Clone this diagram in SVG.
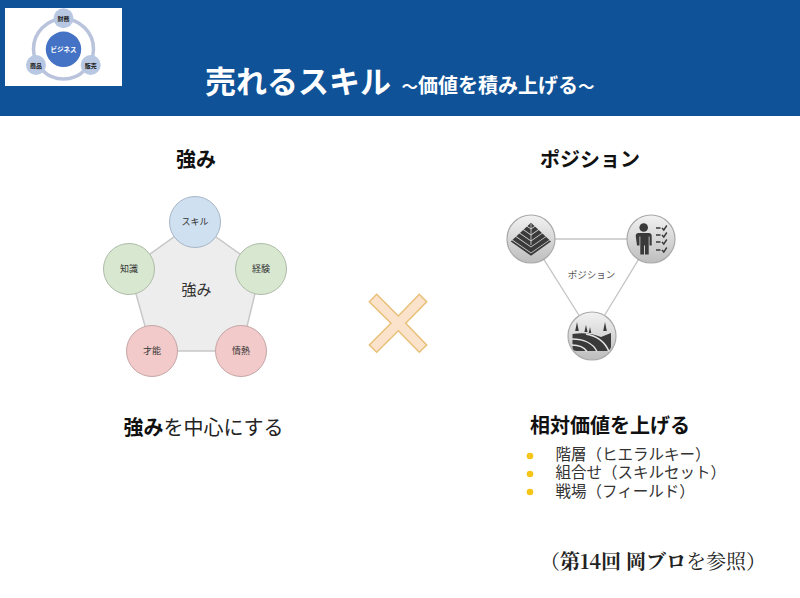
<svg xmlns="http://www.w3.org/2000/svg" width="800" height="598" viewBox="0 0 800 598">
<style>
text{font-family:"Noto Sans CJK JP","Liberation Sans",sans-serif;text-anchor:middle}
.b{font-weight:700;fill:#111}
.n{font-size:9px;fill:#333}
.l{font-size:15.500px;fill:#333;text-anchor:start}
.p{fill:#ededed;stroke:#c8c8c8;stroke-width:1.5}
.blue{fill:#cfe0f1;stroke:#a6b6c6}
.green{fill:#d7e7d0;stroke:#aebca8}
.red{fill:#f3caca;stroke:#c4a6a6}
.ic{fill:url(#g);stroke:#aaa;stroke-width:1.2}
.d{fill:#3a3a3a}
.dl{fill:none;stroke:#3a3a3a}
.w{fill:none;stroke:#e4e4e4;stroke-width:1.5}
.c{stroke:#c4c4c4;stroke-width:1.3;fill:none}
.bul{fill:#f5c518}
.lg{fill:#b9c8e2}
.lt{font-size:6px;fill:#222;font-weight:700}
</style>
<defs>
<linearGradient id="g" x1="0" y1="0" x2="0" y2="1"><stop offset="0" stop-color="#f2f2f2"/><stop offset="1" stop-color="#bdbdbd"/></linearGradient>
<clipPath id="dia"><polygon points="531,222.700 551,241.500 531,255.700 510.700,241.500"/></clipPath>
</defs>
<rect width="800" height="598" fill="#fff"/>
<rect id="header" width="800" height="116" fill="#0f5297"/>
<g id="logo">
<rect x="5" y="8" width="117" height="78" fill="#fff"/>
<circle cx="63.500" cy="49" r="30" fill="none" stroke="#b9c3dc" stroke-width="3.500"/>
<circle cx="63.500" cy="49.300" r="17.700" fill="#4472c4"/>
<text x="63.500" y="51.500" font-size="6.500" fill="#fff" font-weight="700">ビジネス</text>
<circle class="lg" cx="63.500" cy="18.300" r="10"/><text class="lt" x="63.500" y="20.500">財務</text>
<circle class="lg" cx="36" cy="65" r="10"/><text class="lt" x="36" y="67.500">商品</text>
<circle class="lg" cx="90.700" cy="65" r="10"/><text class="lt" x="90.700" y="67.500">販売</text>
</g>
<g id="title">
<text x="298" y="93" font-size="31" font-weight="700" fill="#fff">売れるスキル</text>
<text x="498" y="93" font-size="20" font-weight="700" fill="#fff"><tspan font-size="16.500">～</tspan>価値を積み上げる<tspan font-size="16.500">～</tspan></text>
</g>
<text id="h-left" class="b" x="196" y="167" font-size="20">強み</text>
<text id="h-right" class="b" x="590" y="167" font-size="20">ポジション</text>
<g id="strength">
<polygon class="p" points="195,222 261,269 241,351 152,351 129,269"/>
<text x="196.500" y="295" font-size="15" fill="#333">強み</text>
<g id="n-skill"><circle class="blue" cx="195" cy="222" r="25.500"/><text class="n" x="195" y="225">スキル</text></g>
<g id="n-exp"><circle class="green" cx="261" cy="269" r="25.500"/><text class="n" x="261" y="272">経験</text></g>
<g id="n-passion"><circle class="red" cx="241" cy="351" r="25.500"/><text class="n" x="241" y="354">情熱</text></g>
<g id="n-talent"><circle class="red" cx="152" cy="351" r="25.500"/><text class="n" x="152" y="354">才能</text></g>
<g id="n-know"><circle class="green" cx="129" cy="269" r="25.500"/><text class="n" x="129" y="272">知識</text></g>
</g>
<polygon id="cross" points="369.300,301.700 376.700,294.300 398.300,316 419.300,294.300 426.700,301.700 405.700,323.300 426.700,345 419.300,352.300 398.300,330.700 376.700,352.300 369.300,345 391,323.300" fill="#fbe3cb" stroke="#e9c078" stroke-width="1.500"/>
<g id="connectors">
<line class="c" x1="531" y1="239" x2="651" y2="239"/>
<line class="c" x1="531" y1="239" x2="592" y2="336"/>
<line class="c" x1="651" y1="239" x2="592" y2="336"/>
</g>
<text id="pos" x="591.500" y="278" font-size="9.500" fill="#555">ポジション</text>
<g id="n-pyramid">
<circle class="ic" cx="531" cy="239" r="24"/>
<g clip-path="url(#dia)"><path class="dl" stroke-width="4.200" d="M505 238L531 256L557 238M505 232L531 250L557 232M505 226L531 244L557 226M505 220L531 238L557 220M505 214L531 232L557 214M505 208L531 226L557 208"/></g>
<path stroke="#d8d8d8" stroke-width="0.800" d="M531 224V245"/>
</g>
<g id="n-person">
<circle class="ic" cx="651" cy="239" r="24"/>
<circle class="d" cx="643.700" cy="227.500" r="4.300"/>
<path class="d" d="M635.700 236q0-3 3-3h10q3 0 3 3v9.500h-2.200v-9h-.8v9v9h-3.700v-9h-1v9h-3.700v-9v-9h-.8v9h-2.500z"/>
<path class="dl" stroke-width="1.400" d="M656 228h4.500M656 235h4.500M656 242h4.500M656 250h4.500M662 228l1.800 2 3-4.500M662 235l1.800 2 3-4.500M662 242l1.800 2 3-4.500M662 250l1.800 2 3-4.500"/>
</g>
<g id="n-field">
<circle class="ic" cx="592" cy="336" r="24"/>
<path class="d" d="M572.500 334c12-2 21 0 28.500 3l10-4v14q-1 4-5 4h-29q-4.500 0-4.500-4z"/>
<path class="w" d="M572 339c11 0 21 4 25 12.500M572 345c6 0 12 2 15 6.500M586 334c11 2 19 8 23 17.500"/>
<path class="d" d="M577 322l1.800 9h-3.600zM586 325l1.600 7h-3.200zM590 327l1.300 6h-2.600zM605 322l1.800 9h-3.600z"/>
</g>
<text id="left-cap" x="203.500" y="435" font-size="20" fill="#222"><tspan font-weight="700" fill="#111">強み</tspan>を中心にする</text>
<text id="right-cap" class="b" x="610" y="433" font-size="20">相対価値を上げる</text>
<g id="list">
<circle class="bul" cx="530" cy="456" r="3.300"/>
<circle class="bul" cx="530" cy="474" r="3.300"/>
<circle class="bul" cx="530" cy="492" r="3.300"/>
<text class="l"><tspan x="555.500" y="460">階層（ヒエラルキー）</tspan><tspan x="555.500" y="478">組合せ（スキルセット）</tspan><tspan x="555.500" y="497">戦場（フィールド）</tspan></text>
</g>
<text id="ref" x="653" y="569" font-size="20" fill="#222" style="font-family:'Noto Serif CJK JP','Liberation Serif','Noto Sans CJK JP',serif">（<tspan font-weight="700">第14回 岡ブロ</tspan>を参照）</text>
</svg>
